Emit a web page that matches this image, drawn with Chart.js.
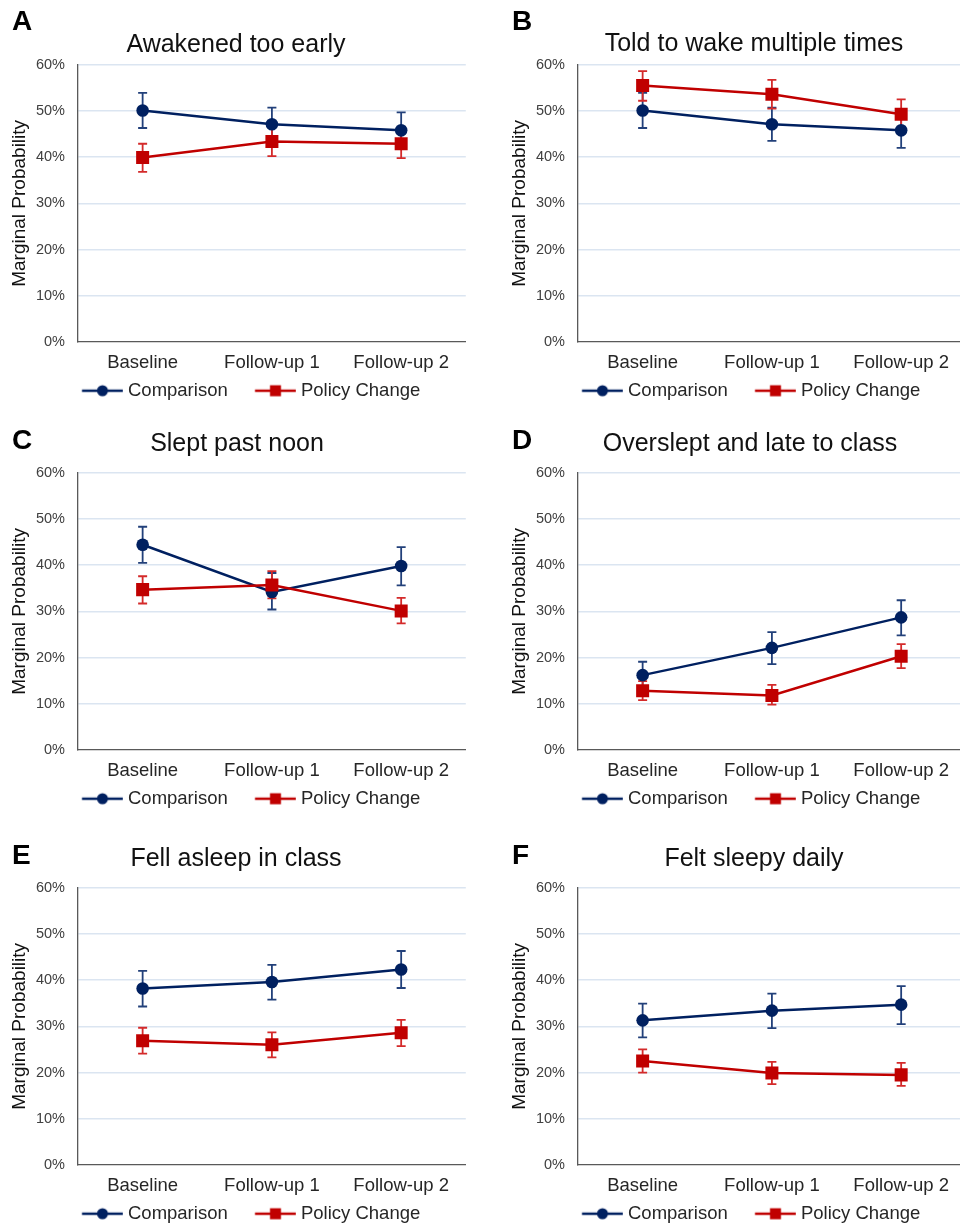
<!DOCTYPE html>
<html>
<head>
<meta charset="utf-8">
<script src="https://cdn.jsdelivr.net/npm/chart.js@4.4.1/dist/chart.umd.min.js"></script>
<style>
  html, body { margin: 0; padding: 0; background: #fff; }
  body { width: 960px; height: 1226px; overflow: hidden; position: relative; font-family: "Liberation Sans", Arial, sans-serif; }
  .panel { position: absolute; width: 475px; height: 410px; }
  .panel canvas { position: absolute; left: 0; top: 0; }
  .letter { position: absolute; left: 12px; font-size: 28px; line-height: 28px; font-weight: bold; color: #000; }
  .title { position: absolute; width: 500px; text-align: center; font-size: 25px; line-height: 25px; color: #111; white-space: nowrap; }
</style>
</head>
<body>
<script>
// categories and tick range
const categories = ['Baseline', 'Follow-up 1', 'Follow-up 2'];
const yMin = 0, yMax = 60, yStep = 10;
const seriesNames = ['Comparison', 'Policy Change'];
const panelLetters = ['A', 'B', 'C', 'D', 'E', 'F'];
const panelTitles = ['Awakened too early', 'Told to wake multiple times', 'Slept past noon',
  'Overslept and late to class', 'Fell asleep in class', 'Felt sleepy daily'];

// A - Awakened too early
const compA = [50.1, 47.1, 45.8], compLoA = [46.3, 43.5, 41.9], compHiA = [53.9, 50.7, 49.7];
const polA = [39.9, 43.4, 42.9], polLoA = [36.8, 40.2, 39.8], polHiA = [42.9, 46.5, 46.0];
// B - Told to wake multiple times
const compB = [50.1, 47.1, 45.8], compLoB = [46.3, 43.5, 42.0], compHiB = [53.9, 50.7, 49.7];
const polB = [55.5, 53.6, 49.3], polLoB = [52.2, 50.5, 46.1], polHiB = [58.6, 56.7, 52.5];
// C - Slept past noon
const compC = [44.4, 34.2, 39.8], compLoC = [40.5, 30.4, 35.6], compHiC = [48.3, 38.3, 43.9];
const polC = [34.7, 35.7, 30.1], polLoC = [31.7, 32.8, 27.4], polHiC = [37.6, 38.7, 32.9];
// D - Overslept and late to class
const compD = [16.2, 22.1, 28.7], compLoD = [13.4, 18.6, 24.8], compHiD = [19.1, 25.5, 32.4];
const polD = [12.8, 11.8, 20.3], polLoD = [10.8, 9.8, 17.7], polHiD = [14.9, 14.1, 22.9];
// E - Fell asleep in class
const compE = [38.2, 39.6, 42.3], compLoE = [34.3, 35.8, 38.3], compHiE = [42.0, 43.3, 46.3];
const polE = [26.9, 26.0, 28.6], polLoE = [24.1, 23.3, 25.7], polHiE = [29.7, 28.7, 31.4];
// F - Felt sleepy daily
const compF = [31.3, 33.4, 34.7], compLoF = [27.6, 29.6, 30.5], compHiF = [34.9, 37.1, 38.7];
const polF = [22.5, 19.9, 19.5], polLoF = [20.0, 17.5, 17.1], polHiF = [25.0, 22.3, 22.1];

const panelData = [
  [compA, compLoA, compHiA, polA, polLoA, polHiA],
  [compB, compLoB, compHiB, polB, polLoB, polHiB],
  [compC, compLoC, compHiC, polC, polLoC, polHiC],
  [compD, compLoD, compHiD, polD, polLoD, polHiD],
  [compE, compLoE, compHiE, polE, polLoE, polHiE],
  [compF, compLoF, compHiF, polF, polLoF, polHiF]
];

// page placement of each panel (left, top) and its letter/title offsets
const panelPos = [
  {left: 0, top: 0, letterTop: 7, titleTop: 31, titleCx: 236},
  {left: 500, top: 0, letterTop: 7, titleTop: 30, titleCx: 254},
  {left: 0, top: 408, letterTop: 18, titleTop: 22, titleCx: 237},
  {left: 500, top: 408, letterTop: 18, titleTop: 22, titleCx: 250},
  {left: 0, top: 823, letterTop: 18, titleTop: 22, titleCx: 236},
  {left: 500, top: 823, letterTop: 18, titleTop: 22, titleCx: 254}
];

const navy = '#002060', navyErr = '#22407a';
const red = '#c00000', redErr = '#d42a2a';
const gridColor = '#dbe5f1', axisColor = '#595959', textColor = '#262626';

Chart.defaults.font.family = '"Liberation Sans", Arial, sans-serif';

// legend key: line with marker, padded on the left so the key sits close to its text
function legendIcon(color, shape) {
  const c = document.createElement('canvas');
  c.width = 73; c.height = 14;
  const g = c.getContext('2d');
  g.strokeStyle = color; g.lineWidth = 2.5;
  g.beginPath(); g.moveTo(31.75, 7); g.lineTo(72.75, 7); g.stroke();
  g.fillStyle = color;
  if (shape === 'circle') {
    g.beginPath(); g.arc(52.25, 7, 5.5, 0, Math.PI * 2); g.fill();
  } else {
    g.fillRect(46.75, 1.5, 11, 11);
  }
  return c;
}
const compIcon = legendIcon(navy, 'circle');
const polIcon = legendIcon(red, 'rect');

// draws whiskers from the dataset's errLo/errHi through the y scale
const errorBars = {
  id: 'errorBars',
  beforeDatasetsDraw(chart) {
    const ctx = chart.ctx;
    const y = chart.scales.y;
    chart.data.datasets.forEach((ds, i) => {
      const meta = chart.getDatasetMeta(i);
      ctx.save();
      ctx.strokeStyle = ds.errColor;
      ctx.lineWidth = 1.8;
      meta.data.forEach((pt, j) => {
        const top = y.getPixelForValue(ds.errHi[j]);
        const bot = y.getPixelForValue(ds.errLo[j]);
        ctx.beginPath();
        ctx.moveTo(pt.x, top); ctx.lineTo(pt.x, bot);
        ctx.moveTo(pt.x - 4.5, top); ctx.lineTo(pt.x + 4.5, top);
        ctx.moveTo(pt.x - 4.5, bot); ctx.lineTo(pt.x + 4.5, bot);
        ctx.stroke();
      });
      ctx.restore();
    });
  }
};

function makePanel(idx) {
  const pos = panelPos[idx];
  const [comp, compLo, compHi, pol, polLo, polHi] = panelData[idx];

  const wrap = document.createElement('div');
  wrap.className = 'panel';
  wrap.style.left = pos.left + 'px';
  wrap.style.top = pos.top + 'px';
  document.body.appendChild(wrap);

  const canvas = document.createElement('canvas');
  canvas.width = 475; canvas.height = 410;
  wrap.appendChild(canvas);

  const letter = document.createElement('div');
  letter.className = 'letter';
  letter.style.top = pos.letterTop + 'px';
  letter.textContent = panelLetters[idx];
  wrap.appendChild(letter);

  const title = document.createElement('div');
  title.className = 'title';
  title.style.top = pos.titleTop + 'px';
  title.style.left = (pos.titleCx - 250) + 'px';
  title.textContent = panelTitles[idx];
  wrap.appendChild(title);

  new Chart(canvas, {
    type: 'line',
    data: {
      labels: categories,
      datasets: [{
        label: seriesNames[0],
        data: comp,
        errLo: compLo, errHi: compHi, errColor: navyErr, icon: compIcon,
        borderColor: navy, backgroundColor: navy,
        borderWidth: 2.5, pointStyle: 'circle', pointRadius: 6.3,
        pointBorderWidth: 0, order: 1
      }, {
        label: seriesNames[1],
        data: pol,
        errLo: polLo, errHi: polHi, errColor: redErr, icon: polIcon,
        borderColor: red, backgroundColor: red,
        borderWidth: 2.5, pointStyle: 'rect', pointRadius: 9.2,
        pointBorderWidth: 0, order: 0
      }]
    },
    options: {
      responsive: false,
      animation: false,
      layout: { padding: { top: 64.7, left: 0, right: 0, bottom: 0 } },
      plugins: {
        title: { display: false },
        tooltip: { enabled: false },
        legend: {
          position: 'bottom',
          labels: {
            usePointStyle: true,
            pointStyleWidth: 64,
            padding: 0,
            color: textColor,
            font: { size: 18.5 },
            generateLabels: (chart) => chart.data.datasets.map((ds, i) => ({
              text: ds.label,
              pointStyle: ds.icon,
              fillStyle: 'transparent',
              strokeStyle: 'transparent',
              lineWidth: 0,
              hidden: false,
              datasetIndex: i,
              fontColor: textColor
            }))
          }
        }
      },
      scales: {
        x: {
          offset: true,
          grid: { display: false, drawTicks: false },
          border: { display: true, color: axisColor, width: 1.3 },
          ticks: { color: textColor, font: { size: 18.5 }, padding: 10, maxRotation: 0, autoSkip: false },
          afterFit: (s) => { s.height = 39.5; }
        },
        y: {
          min: yMin, max: yMax,
          grid: {
            drawTicks: false,
            color: (c) => c.tick && c.tick.value === 0 ? 'rgba(0,0,0,0)' : gridColor,
            lineWidth: 1.5
          },
          border: { display: true, color: axisColor, width: 1.3 },
          ticks: {
            stepSize: yStep, padding: 13, color: '#404040', font: { size: 14.5 },
            callback: (v) => v + '%'
          },
          title: {
            display: true, text: 'Marginal Probability', color: '#111',
            font: { size: 19 }, padding: { top: 8, bottom: 0 }
          },
          afterFit: (s) => { s.width = 78; }
        },
        yRight: {
          position: 'right',
          display: true,
          grid: { display: false },
          border: { display: false },
          ticks: { display: false },
          afterFit: (s) => { s.width = 2; }
        }
      }
    },
    plugins: [errorBars]
  });
}

for (let i = 0; i < 6; i++) makePanel(i);
</script>
</body>
</html>
